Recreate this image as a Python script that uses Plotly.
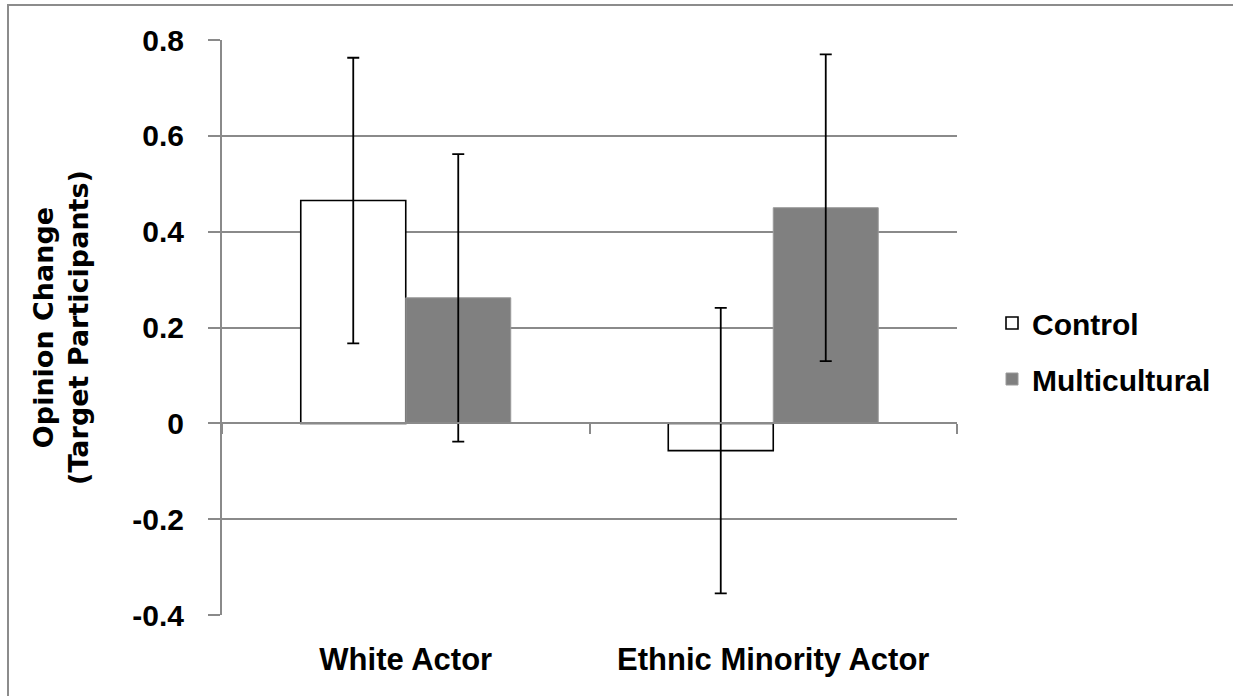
import plotly.graph_objects as go

# Opinion change of target participants by actor ethnicity and condition
categories = ["White Actor", "Ethnic Minority Actor"]
series_names = ["Control", "Multicultural"]
control_values = [0.465, -0.057]
control_errors = [0.298, 0.298]
multicultural_values = [0.262, 0.450]
multicultural_errors = [0.300, 0.320]

y_tick_values = [0.8, 0.6, 0.4, 0.2, 0, -0.2, -0.4]
y_tick_labels = ["0.8", "0.6", "0.4", "0.2", "0", "-0.2", "-0.4"]

W, H = 1233, 696
ML, MR, MT, MB = 222, 276, 40, 81
PW, PH = W - ML - MR, H - MT - MB

SANS = "Liberation Sans Narrow, Arial Narrow, Liberation Sans, Arial, sans-serif"
WIDE = "DejaVu Sans, Verdana, sans-serif"
GRID = "#8a8a8a"


def px_x(p):
    return (p - ML) / PW


def px_y(p):
    return (H - MB - p) / PH


fig = go.Figure()
fig.add_trace(go.Bar(
    name=series_names[0], x=categories, y=control_values,
    legendgroup="a",
    marker=dict(color="white", line=dict(color="black", width=1.6)),
    error_y=dict(type="data", array=control_errors, color="black",
                 thickness=1.8, width=6),
))
fig.add_trace(go.Bar(
    name=series_names[1], x=categories, y=multicultural_values,
    legendgroup="b",
    marker=dict(color="#808080", line=dict(color="#9a9a9a", width=1)),
    error_y=dict(type="data", array=multicultural_errors, color="black",
                 thickness=1.8, width=6),
))

fig.update_layout(
    width=W, height=H,
    margin=dict(l=ML, r=MR, t=MT, b=MB, autoexpand=False),
    paper_bgcolor="white", plot_bgcolor="white",
    barmode="group", bargap=0.4286, bargroupgap=0,
    font=dict(family=SANS, size=30, color="black", weight="bold"),
    showlegend=True,
    legend=dict(
        x=px_x(992), y=px_y(351), xanchor="left", yanchor="middle",
        font=dict(family=SANS, size=30, color="black", weight="bold"),
        bgcolor="rgba(0,0,0,0)", itemwidth=30,
        traceorder="grouped", tracegroupgap=14,
    ),
    xaxis=dict(
        type="category",
        anchor="free", position=1 / 3,
        showline=True, linecolor=GRID, linewidth=2,
        ticks="outside", tickson="boundaries", ticklen=10,
        tickcolor=GRID, tickwidth=2,
        showgrid=False, zeroline=False,
        ticklabelstandoff=208,
        tickfont=dict(family=SANS, size=31, color="black", weight="bold"),
        automargin=False,
    ),
    yaxis=dict(
        range=[-0.4, 0.8],
        tickvals=y_tick_values, ticktext=y_tick_labels,
        showline=True, linecolor=GRID, linewidth=2,
        ticks="outside", ticklen=12, tickcolor=GRID, tickwidth=2,
        showgrid=True, gridcolor=GRID, gridwidth=2,
        zeroline=True, zerolinecolor=GRID, zerolinewidth=2,
        ticklabelstandoff=18,
        tickfont=dict(family=SANS, size=30, color="black", weight="bold"),
        title=dict(
            text="Opinion Change<br>(Target Participants)",
            font=dict(family=WIDE, size=27, color="black", weight="bold"),
            standoff=36,
        ),
        automargin=False,
    ),
    shapes=[dict(
        type="rect", xref="paper", yref="paper",
        x0=px_x(8), x1=px_x(1260), y0=px_y(720), y1=px_y(5),
        line=dict(color="#8c8c8c", width=2), fillcolor="rgba(0,0,0,0)",
        layer="below",
    )],
)

fig.write_html("out.html")
